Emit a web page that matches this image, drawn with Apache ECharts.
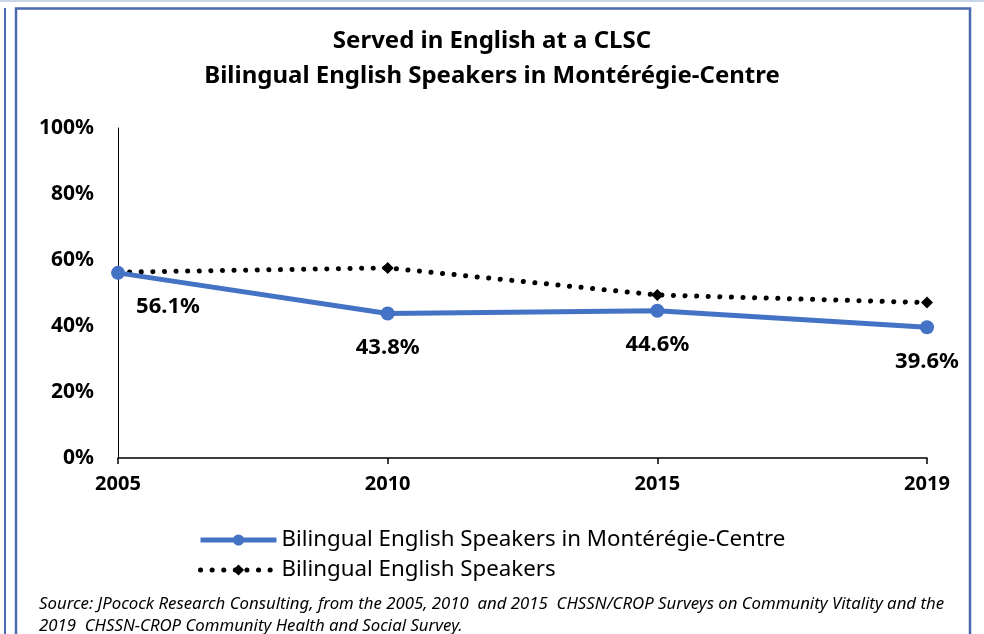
<!DOCTYPE html>
<html>
<head>
<meta charset="UTF-8">
<title>Served in English at a CLSC</title>
<script src="https://cdn.jsdelivr.net/npm/echarts@6/dist/echarts.min.js"></script>
<style>
  html, body { margin: 0; padding: 0; background: #fff; }
  #chart { width: 984px; height: 634px; }
</style>
</head>
<body>
<div id="chart"></div>
<script>
var years = ['2005', '2010', '2015', '2019'];
var monteregie = [56.1, 43.8, 44.6, 39.6];
var bilingual = [56.3, 57.6, 49.4, 47.1];
var seriesNames = ['Bilingual English Speakers in Montérégie-Centre', 'Bilingual English Speakers'];

var FONT = 'Noto Sans';
var chart = echarts.init(document.getElementById('chart'));

chart.setOption({
    animation: false,
    backgroundColor: '#fff',
    title: [{
        text: 'Served in English at a CLSC\nBilingual English Speakers in Montérégie-Centre',
        left: 'center',
        top: 19,
        textStyle: { fontFamily: FONT, fontSize: 24, fontWeight: 'bold', color: '#000', lineHeight: 35 }
    }, {
        text: 'Source: JPocock Research Consulting, from the 2005, 2010  and 2015  CHSSN/CROP Surveys on Community Vitality and the\n2019  CHSSN-CROP Community Health and Social Survey.',
        left: 34,
        top: 588,
        textStyle: { fontFamily: FONT, fontSize: 16.8, fontStyle: 'italic', fontWeight: 'normal', color: '#000', lineHeight: 22 }
    }],
    legend: {
        orient: 'vertical',
        left: 193,
        top: 524,
        itemWidth: 76,
        itemHeight: 14,
        itemGap: 8,
        data: [
            { name: seriesNames[0], lineStyle: { width: 5 } },
            { name: seriesNames[1], lineStyle: { width: 5 } }
        ],
        textStyle: { fontFamily: FONT, fontSize: 22.3, color: '#000' }
    },
    grid: { left: 118, right: 57, top: 128, bottom: 176 },
    xAxis: {
        type: 'category',
        data: years,
        boundaryGap: false,
        axisLine: { lineStyle: { color: '#000', width: 1.5 } },
        axisTick: { show: true, length: 6, lineStyle: { color: '#000', width: 1.5 } },
        axisLabel: { fontFamily: FONT, fontSize: 20, fontWeight: 'bold', color: '#000', margin: 16 }
    },
    yAxis: {
        type: 'value',
        min: 0,
        max: 100,
        interval: 20,
        axisLine: { show: true, lineStyle: { color: '#000', width: 1 } },
        axisTick: { show: false },
        splitLine: { show: false },
        axisLabel: { formatter: '{value}%', fontFamily: FONT, fontSize: 21, fontWeight: 'bold', color: '#000', margin: 24 }
    },
    series: [{
        name: seriesNames[0],
        type: 'line',
        data: monteregie,
        z: 4,
        symbol: 'circle',
        symbolSize: 14,
        itemStyle: { color: '#4472C4' },
        lineStyle: { color: '#4472C4', width: 5 },
        label: {
            show: true,
            position: 'bottom',
            distance: 16,
            formatter: function (p) { return p.value.toFixed(1) + '%'; },
            fontFamily: FONT, fontSize: 22, fontWeight: 'bold', color: '#000'
        },
        labelLayout: function (p) {
            if (p.dataIndex === 0) return { dx: 50 };
            return {};
        }
    }, {
        name: seriesNames[1],
        type: 'line',
        data: bilingual,
        z: 3,
        symbol: 'diamond',
        symbolSize: 12,
        itemStyle: { color: '#000' },
        lineStyle: { color: '#000', width: 5, type: [0.1, 11.5], cap: 'round' }
    }],
    graphic: [{
        type: 'line', shape: { x1: 0, y1: 1, x2: 984, y2: 1 },
        style: { stroke: '#c9d6ea', lineWidth: 2 }, silent: true
    }, {
        type: 'line', shape: { x1: 5, y1: 8, x2: 5, y2: 634 },
        style: { stroke: '#4a6aae', lineWidth: 2 }, silent: true
    }, {
        type: 'rect', shape: { x: 16, y: 8.5, width: 954, height: 640 },
        style: { fill: 'none', stroke: '#4a6aae', lineWidth: 2.5 }, silent: true
    }]
});
</script>
</body>
</html>
